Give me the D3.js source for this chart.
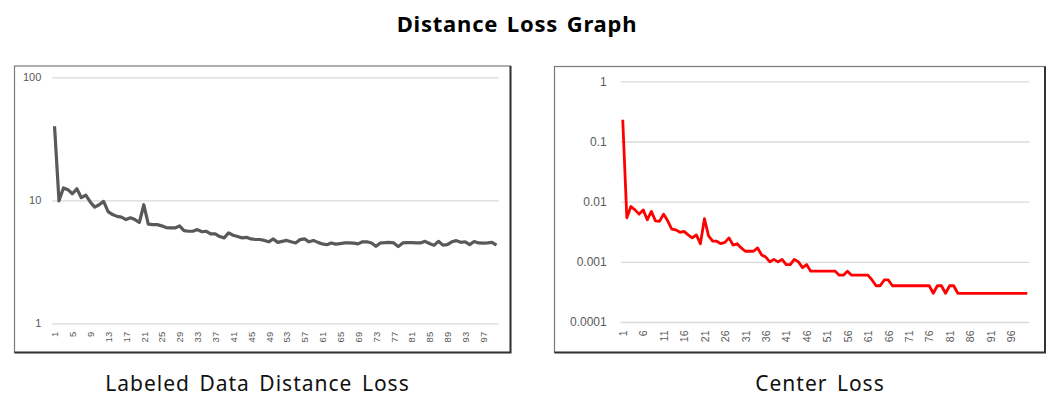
<!DOCTYPE html>
<html>
<head>
<meta charset="utf-8">
<script src="https://cdn.jsdelivr.net/npm/d3@7"></script>
<style>
  body { margin: 0; background: #fff; }
  svg { display: block; }
  .grid line { stroke: #d9d9d9; stroke-width: 1.3; }
  .tick text { fill: #595959; font-family: "Liberation Sans", Arial, sans-serif; }
</style>
</head>
<body>
<div id="container"></div>
<script>
var W = 1052,
  H = 396;

// x categories (epochs 1..100)
var categories = d3.range(1, 101);

// tick labels
var leftXTicks = [1, 5, 9, 13, 17, 21, 25, 29, 33, 37, 41, 45, 49, 53, 57, 61, 65, 69, 73, 77, 81, 85, 89, 93, 97];
var rightXTicks = [1, 6, 11, 16, 21, 26, 31, 36, 41, 46, 51, 56, 61, 66, 71, 76, 81, 86, 91, 96];
var leftYTicks = [1, 10, 100];
var rightYTicks = [0.0001, 0.001, 0.01, 0.1, 1];

// Labeled Data Distance Loss
var distanceLoss = [
  40, 9.9, 12.6, 12.2, 11.3, 12.4, 10.5, 11.0, 9.7, 8.8,
  9.2, 9.8, 8.1, 7.65, 7.4, 7.3, 6.97, 7.2, 6.97, 6.6,
  9.2, 6.4, 6.34, 6.34, 6.2, 6.0, 5.96, 5.96, 6.2, 5.67,
  5.6, 5.6, 5.78, 5.55, 5.6, 5.33, 5.33, 5.07, 4.95, 5.43,
  5.2, 5.07, 4.95, 5.0, 4.85, 4.8, 4.8, 4.72, 4.6, 4.85,
  4.55, 4.64, 4.72, 4.6, 4.5, 4.79, 4.85, 4.6, 4.72, 4.55,
  4.42, 4.35, 4.5, 4.4, 4.45, 4.5, 4.5, 4.48, 4.42, 4.6,
  4.6, 4.5, 4.23, 4.5, 4.52, 4.55, 4.5, 4.2, 4.5, 4.52,
  4.52, 4.5, 4.5, 4.64, 4.45, 4.3, 4.64, 4.32, 4.36, 4.6,
  4.7, 4.55, 4.6, 4.36, 4.62, 4.5, 4.48, 4.5, 4.55, 4.32
];

// Center Loss
var centerLoss = [
  0.23, 0.0054, 0.0083, 0.0073, 0.0062, 0.0073, 0.005, 0.0069, 0.0048, 0.0047,
  0.0062, 0.0048, 0.0035, 0.0034, 0.0031, 0.0032, 0.0028, 0.0025, 0.0028, 0.002,
  0.0052, 0.0027, 0.0022, 0.0022, 0.002, 0.0021, 0.0025, 0.0019, 0.002, 0.0017,
  0.0015, 0.0015, 0.0015, 0.0017, 0.0013, 0.0012, 0.001, 0.0011, 0.001, 0.0011,
  0.0009, 0.0009, 0.0011, 0.001, 0.0008, 0.0009, 0.0007, 0.0007, 0.0007, 0.0007,
  0.0007, 0.0007, 0.0007, 0.0006, 0.0006, 0.0007, 0.0006, 0.0006, 0.0006, 0.0006,
  0.0006, 0.0005, 0.0004, 0.0004, 0.0005, 0.0005, 0.0004, 0.0004, 0.0004, 0.0004,
  0.0004, 0.0004, 0.0004, 0.0004, 0.0004, 0.0004, 0.0003, 0.0004, 0.0004, 0.0003,
  0.0004, 0.0004, 0.0003, 0.0003, 0.0003, 0.0003, 0.0003, 0.0003, 0.0003, 0.0003,
  0.0003, 0.0003, 0.0003, 0.0003, 0.0003, 0.0003, 0.0003, 0.0003, 0.0003, 0.0003
];

var svg = d3.select('#container')
  .append('svg')
  .attr('width', W).attr('height', H);

svg.append('text')
  .attr('x', 517).attr('y', 32)
  .attr('text-anchor', 'middle')
  .style('font-family', '"Noto Sans", sans-serif')
  .style('font-weight', 'bold')
  .style('font-size', '22px')
  .style('letter-spacing', '0.8px')
  .style('word-spacing', '2px')
  .text('Distance Loss Graph');

drawPanel({
  box: [14.5, 66, 496, 286.5],
  plot: [52.3, 77.3, 498.7, 323.3],
  values: distanceLoss,
  yDomain: [1, 100],
  yTicks: leftYTicks,
  yFormat: d3.format('d'),
  yFont: 11,
  yPad: 11,
  xTicks: leftXTicks,
  xFont: 9.5,
  color: '#595959',
  width: 3.2,
  caption: 'Labeled Data Distance Loss',
  captionX: 257.5
});

drawPanel({
  box: [554.5, 66.5, 490.5, 286],
  plot: [620.7, 81.3, 1029.3, 322],
  values: centerLoss,
  yDomain: [0.0001, 1],
  yTicks: rightYTicks,
  yFormat: function (d) { return String(+d.toFixed(4)); },
  yFont: 12,
  yPad: 14,
  xTicks: rightXTicks,
  xFont: 10.5,
  color: '#ff0000',
  width: 2.8,
  caption: 'Center Loss',
  captionX: 820
});

function drawPanel(o) {
  var g = svg.append('g');
  var b = o.box;

  g.append('rect')
    .attr('x', b[0]).attr('y', b[1])
    .attr('width', b[2]).attr('height', b[3])
    .attr('fill', '#fff')
    .attr('stroke', '#7a7a7a')
    .attr('stroke-width', 1.2);
  // darker shadow edge right + bottom
  g.append('path')
    .attr('d', 'M' + (b[0] + b[2]) + ',' + b[1] + 'V' + (b[1] + b[3]) + 'H' + b[0])
    .attr('fill', 'none')
    .attr('stroke', '#333')
    .attr('stroke-width', 2);

  var x0 = o.plot[0], y0 = o.plot[1], x1 = o.plot[2], y1 = o.plot[3];
  var x = d3.scalePoint().domain(categories).range([x0, x1]).padding(0.5);
  var y = d3.scaleLog().domain(o.yDomain).range([y1, y0]);

  var gy = g.append('g')
    .attr('class', 'grid')
    .attr('transform', 'translate(' + x0 + ',0)')
    .call(d3.axisLeft(y).tickValues(o.yTicks).tickFormat(o.yFormat)
      .tickSize(-(x1 - x0)).tickPadding(o.yPad));
  gy.select('.domain').remove();
  gy.selectAll('text').style('font-size', o.yFont + 'px');

  var gx = g.append('g')
    .attr('transform', 'translate(0,' + y1 + ')')
    .call(d3.axisBottom(x).tickValues(o.xTicks).tickSize(0));
  gx.select('.domain').remove();
  gx.selectAll('text')
    .attr('transform', 'rotate(-90)')
    .attr('x', -8.5).attr('y', 0).attr('dy', '.35em')
    .style('text-anchor', 'end')
    .style('font-size', o.xFont + 'px');

  var line = d3.line()
    .x(function (d, i) { return x(categories[i]); })
    .y(function (d) { return y(d); });

  g.append('path')
    .datum(o.values)
    .attr('d', line)
    .attr('fill', 'none')
    .attr('stroke', o.color)
    .attr('stroke-width', o.width)
    .attr('stroke-linejoin', 'round');

  svg.append('text')
    .attr('x', o.captionX).attr('y', 391)
    .attr('text-anchor', 'middle')
    .style('font-family', '"Noto Sans", sans-serif')
    .style('font-size', '21px')
    .style('letter-spacing', '1px')
    .style('word-spacing', '3px')
    .attr('fill', '#111')
    .text(o.caption);
}
</script>
</body>
</html>
